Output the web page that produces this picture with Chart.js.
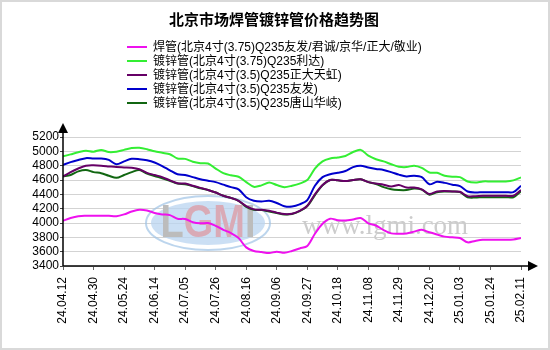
<!DOCTYPE html>
<html>
<head>
<meta charset="utf-8">
<script src="https://cdn.jsdelivr.net/npm/chart.js@4/dist/chart.umd.min.js"></script>
<style>
  html, body { margin: 0; padding: 0; background: #fff; }
  #wrap { width: 550px; height: 350px; position: relative; }
</style>
</head>
<body>
<div id="wrap"><canvas id="priceChart" width="550" height="350"></canvas></div>
<script>
// tick dates on the x axis, one every 4 samples
const dateTicks = ['24.04.12', '24.04.30', '24.05.24', '24.06.14', '24.07.05', '24.07.26', '24.08.16', '24.09.06',
    '24.09.27', '24.10.18', '24.11.08', '24.11.29', '24.12.20', '25.01.03', '25.01.24', '25.02.11'];
const pointsPerTick = 4;

const seriesNames = [
    '焊管(北京4寸(3.75)Q235友发/君诚/京华/正大/敬业)',
    '镀锌管(北京4寸(3.75)Q235利达)',
    '镀锌管(北京4寸(3.5)Q235正大天虹)',
    '镀锌管(北京4寸(3.5)Q235友发)',
    '镀锌管(北京4寸(3.5)Q235唐山华岐)'
];

const weldedPipe = [4030, 4070, 4095, 4100, 4100, 4100, 4100, 4095, 4120, 4160,
    4185, 4175, 4140, 4120, 4110, 4060, 4055, 4010, 3995, 4000,
    3960, 3905, 3860, 3790, 3660, 3610, 3595, 3580, 3600, 3585,
    3610, 3645, 3680, 3850, 3990, 4060, 4040, 4035, 4050, 4070,
    3995, 3965, 3900, 3855, 3850, 3855, 3880, 3905, 3870, 3840,
    3810, 3800, 3790, 3730, 3750, 3765, 3765, 3765, 3765, 3770,
    3790];
const galvLida = [4930, 4958, 4986, 5009, 4995, 5020, 4990, 4995, 5020, 5045,
    5050, 5030, 5000, 4980, 4960, 4900, 4895, 4855, 4835, 4830,
    4760, 4695, 4665, 4645, 4570, 4505, 4525, 4565, 4530, 4500,
    4520, 4550, 4600, 4760, 4860, 4900, 4915, 4935, 4990, 5020,
    4940, 4890, 4860, 4820, 4785, 4780, 4800, 4770, 4705, 4700,
    4660, 4645, 4640, 4580, 4565, 4580, 4580, 4580, 4580, 4595,
    4635];
const galvZhengda = [4650, 4710, 4760, 4800, 4805, 4800, 4790, 4780, 4775, 4770,
    4750, 4700, 4670, 4640, 4595, 4555, 4550, 4520, 4490, 4460,
    4425, 4380, 4350, 4310, 4235, 4190, 4185, 4170, 4145, 4125,
    4130, 4170, 4240, 4400, 4530, 4600, 4595, 4585, 4600, 4610,
    4570, 4550, 4535, 4510, 4530, 4495, 4495, 4470, 4405, 4440,
    4445, 4440, 4435, 4375, 4375, 4380, 4380, 4380, 4380, 4380,
    4460];
const galvYoufa = [4810, 4850, 4880, 4905, 4900, 4900, 4880, 4820, 4860, 4895,
    4890, 4875, 4845, 4795, 4735, 4680, 4670, 4640, 4610, 4590,
    4570, 4535, 4500, 4470, 4360, 4310, 4300, 4310, 4280, 4235,
    4230, 4260, 4320, 4520, 4640, 4680, 4700, 4725, 4780, 4800,
    4775, 4755, 4740, 4710, 4675, 4650, 4660, 4640, 4540, 4575,
    4560, 4535, 4515, 4440, 4425, 4430, 4430, 4430, 4430, 4430,
    4520];
const galvHuaqi = [4650, 4670, 4720, 4740, 4710, 4695, 4660, 4630, 4670, 4710,
    4740, 4690, 4655, 4625, 4590, 4550, 4540, 4515, 4485, 4460,
    4425, 4380, 4350, 4310, 4225, 4185, 4180, 4160, 4140, 4120,
    4125, 4165, 4235, 4390, 4525, 4600, 4595, 4585, 4600, 4610,
    4570, 4545, 4500, 4470, 4460, 4460, 4480, 4465, 4395, 4430,
    4440, 4440, 4430, 4360, 4355, 4360, 4360, 4360, 4360, 4360,
    4445];

const yMin = 3400, yMax = 5200, yStep = 200;

const seriesValues = [weldedPipe, galvLida, galvZhengda, galvYoufa, galvHuaqi];
const seriesColors = ['#ee11ee', '#33ee33', '#660066', '#0000cc', '#116611'];

const FONT = "'Liberation Sans', Arial, 'Noto Sans CJK SC', sans-serif";
Chart.defaults.font.family = FONT;
Chart.defaults.color = '#000';

const datasets = seriesValues.map((vals, k) => ({
    label: seriesNames[k],
    data: vals.map((v, i) => ({ x: i, y: v })),
    borderColor: seriesColors[k],
    backgroundColor: seriesColors[k],
    borderWidth: 2,
    pointRadius: 0,
    tension: 0.3,
    fill: false
}));

// title, legend list, watermark and arrowed axes
const decor = {
    id: 'decor',
    beforeDraw(chart) {
        const c = chart.ctx;
        c.save();
        c.fillStyle = '#fff';
        c.fillRect(0, 0, chart.width, chart.height);
        c.strokeStyle = '#d9d9d9';
        c.lineWidth = 2;
        c.strokeRect(1, 1, chart.width - 2, chart.height - 2);
        c.restore();
    },
    beforeDatasetsDraw(chart) {
        const c = chart.ctx;
        c.save();
        // logo oval
        c.beginPath();
        c.ellipse(208, 223, 62, 27, 0, 0, Math.PI * 2);
        c.strokeStyle = 'rgba(160,195,230,0.7)';
        c.lineWidth = 2;
        c.stroke();
        c.beginPath();
        c.ellipse(208, 223, 57, 22, 0, 0, Math.PI * 2);
        c.fillStyle = 'rgba(185,212,240,0.75)';
        c.fill();
        c.font = "bold 38px 'Liberation Sans', Arial, sans-serif";
        c.textBaseline = 'middle';
        c.textAlign = 'left';
        const parts = [['L', '#bcbcbc'], ['G', '#d9aab6'], ['M', '#d9aab6'], ['I', '#bcbcbc']];
        let x = 208 - c.measureText('LGMI').width / 2;
        c.save();
        c.translate(0, 223);
        c.scale(1, 1.2);
        for (const [ch, col] of parts) {
            c.fillStyle = col;
            c.fillText(ch, x, 1);
            x += c.measureText(ch).width;
        }
        c.restore();
        c.font = "27px 'Liberation Serif', 'DejaVu Serif', serif";
        c.fillStyle = '#cccccc';
        c.textAlign = 'center';
        c.textBaseline = 'alphabetic';
        c.fillText('www.lgmi.com', 385, 234);
        c.restore();
    },
    afterDraw(chart) {
        const c = chart.ctx;
        const a = chart.chartArea;
        c.save();
        // axes with arrow heads
        c.strokeStyle = '#000';
        c.fillStyle = '#000';
        c.lineWidth = 1.5;
        c.beginPath();
        c.moveTo(a.left, a.bottom);
        c.lineTo(a.left, a.top - 4);
        c.moveTo(a.left, a.bottom);
        c.lineTo(a.right + 9, a.bottom);
        c.stroke();
        c.beginPath();
        c.moveTo(a.left, a.top - 14);
        c.lineTo(a.left - 5, a.top - 4);
        c.lineTo(a.left + 5, a.top - 4);
        c.closePath();
        c.fill();
        c.beginPath();
        c.moveTo(a.right + 17, a.bottom);
        c.lineTo(a.right + 7, a.bottom - 5);
        c.lineTo(a.right + 7, a.bottom + 5);
        c.closePath();
        c.fill();

        // title
        c.font = "bold 15px 'Noto Sans CJK SC', sans-serif";
        c.textAlign = 'center';
        c.textBaseline = 'middle';
        c.fillText('北京市场焊管镀锌管价格趋势图', 274, 19);

        // legend, one series per row
        c.font = '12px ' + FONT;
        c.textAlign = 'left';
        chart.data.datasets.forEach((ds, k) => {
            const y = 47 + k * 14;
            c.strokeStyle = ds.borderColor;
            c.lineWidth = 2;
            c.beginPath();
            c.moveTo(127, y);
            c.lineTo(147, y);
            c.stroke();
            c.fillStyle = '#000';
            c.fillText(ds.label, 153, y + 1);
        });
        c.restore();
    }
};

new Chart(document.getElementById('priceChart'), {
    type: 'line',
    data: { datasets: datasets },
    options: {
        responsive: false,
        animation: false,
        events: [],
        layout: { padding: { left: 0, top: 137, right: 29, bottom: 0 } },
        plugins: {
            legend: { display: false },
            title: { display: false },
            tooltip: { enabled: false }
        },
        scales: {
            x: {
                type: 'linear',
                min: 0,
                max: (dateTicks.length - 1) * pointsPerTick,
                afterFit: s => { s.height = 84; },
                border: { display: false },
                grid: { drawOnChartArea: false, drawTicks: true, tickLength: 4, tickColor: '#666' },
                ticks: {
                    stepSize: pointsPerTick,
                    autoSkip: false,
                    minRotation: 90,
                    maxRotation: 90,
                    padding: 7,
                    color: '#000',
                    font: { size: 12 },
                    callback: v => dateTicks[v / pointsPerTick]
                }
            },
            y: {
                min: yMin,
                max: yMax,
                afterFit: s => { s.width = 63; },
                border: { display: false },
                grid: { color: '#d3d3d3', tickLength: 3, tickColor: '#444' },
                ticks: {
                    stepSize: yStep,
                    autoSkip: false,
                    padding: 1,
                    color: '#000',
                    font: { size: 12 },
                    callback: v => String(v)
                }
            }
        }
    },
    plugins: [decor]
});
</script>
</body>
</html>
